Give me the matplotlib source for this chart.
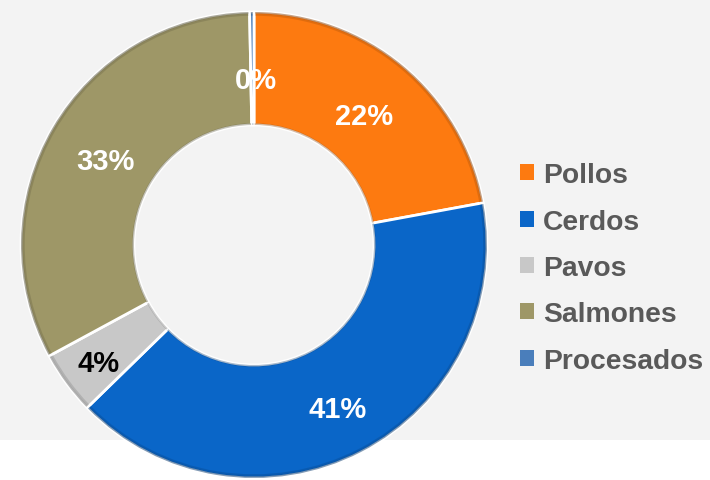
import matplotlib.pyplot as plt
from matplotlib.patches import Rectangle, Wedge
import matplotlib.colors as mcolors
import numpy as np

plt.rcParams['font.family'] = ['Liberation Sans', 'DejaVu Sans']

# datos del gráfico
categorias = ["Pollos", "Cerdos", "Pavos", "Salmones", "Procesados"]
valores = [22.1, 40.6, 4.4, 32.6, 0.3]
colores = ["#FD7A10", "#0A66C8", "#C8C8C8", "#9E9767", "#4A7EBB"]
color_texto = ["white", "white", "black", "white", "white"]

fig = plt.figure(figsize=(7.1, 4.81), dpi=100)
fig.patch.set_facecolor("white")
# fondo gris claro (termina antes del borde inferior)
fig.patches.append(Rectangle((0, 40 / 481), 1, 441 / 481, transform=fig.transFigure,
                             facecolor="#F3F3F3", edgecolor="none", zorder=-10))

# ejes del anillo colocados en pixeles: centro (254, 246), radio 233
ax = fig.add_axes([(254 - 233) / 710, (235 - 233) / 481, 466 / 710, 466 / 481])
ax.set_zorder(2)

wedges, _ = ax.pie(valores, colors=colores, startangle=90, counterclock=False, radius=1,
                   wedgeprops=dict(width=0.485, edgecolor="white", linewidth=2))
ax.set_xlim(-1, 1)
ax.set_ylim(-1, 1)
ax.set_aspect("equal")
ax.axis("off")

# borde oscuro exterior e interior (imita el biselado)
for w, col in zip(wedges, colores):
    oscuro = tuple(np.array(mcolors.to_rgb(col)) * 0.55)
    for r0, a in [(1.0, 0.5), (0.992, 0.25)]:
        ax.add_patch(Wedge((0, 0), r0, w.theta1 + 0.3, w.theta2 - 0.3, width=0.008,
                           facecolor=oscuro, edgecolor="none", alpha=a))
    ax.add_patch(Wedge((0, 0), 0.523, w.theta1 + 0.3, w.theta2 - 0.3, width=0.008,
                       facecolor=oscuro, edgecolor="none", alpha=0.35))

# etiquetas de porcentaje
inicio = 90.0
dist = [0.74, 0.78, 0.83, 0.74, 0.72]
for v, c, d in zip(valores, color_texto, dist):
    medio = np.deg2rad(inicio - v * 3.6 / 2)
    inicio -= v * 3.6
    x = d * np.cos(medio)
    y = d * np.sin(medio) - 0.013
    if v < 1:
        x += 0.015
    ax.text(x, y, f"{round(v)}%", ha="center", va="center",
            fontsize=21, fontweight="bold", color=c)

leg = fig.legend(wedges, categorias, loc="upper left", bbox_to_anchor=(495 / 710, 1 - 138 / 481),
                 frameon=False, fontsize=20.3, handlelength=0.5, handleheight=0.5,
                 handletextpad=0.3, labelspacing=0.72)
leg.set_zorder(3)
for t in leg.get_texts():
    t.set_color("#595959")
    t.set_fontweight("bold")
for h in leg.legend_handles:
    h.set_edgecolor("none")

fig.savefig("out.png", dpi=100)
